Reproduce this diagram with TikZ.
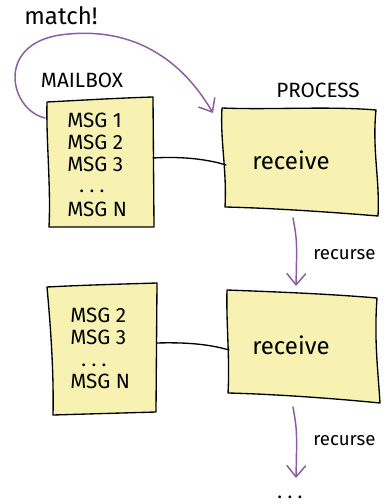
\documentclass[tikz,border=0pt]{standalone}
\usepackage{fontspec}
\setmainfont{Fira Sans}
\usepackage{tikz}
\usetikzlibrary{arrows.meta}
\usepackage{xcolor}
\definecolor{notefill}{RGB}{247,242,178}
\definecolor{sketchpurple}{RGB}{140,92,162}

\begin{document}
\begin{tikzpicture}[x=0.75pt,y=-0.75pt,>={Straight Barb[length=3mm,width=5mm]},line cap=round,line join=round,
  note/.style={draw=black,fill=notefill,line width=1pt},
  msg/.style={font=\fontsize{15.5}{17}\selectfont,inner sep=0pt,anchor=base west},
  dots/.style={font=\fontsize{15}{17}\selectfont,inner sep=0pt,anchor=base},
  title/.style={font=\fontsize{15.5}{17}\selectfont,inner sep=0pt},
  call/.style={font=\fontsize{18}{20}\selectfont,inner sep=0pt},
  side/.style={font=\fontsize{14}{16}\selectfont,inner sep=0pt,anchor=west},
  link/.style={line width=1pt},
  flow/.style={->,draw=sketchpurple,line width=1.1pt}]
\useasboundingbox (0,0) rectangle (385,504);
% mailboxes
\draw[note] (47,102) .. controls (85,100) and (120,98) .. (153,97) -- (154,227) -- (49,227) .. controls (51,185) and (46,140) .. cycle;
\draw[note] (47,287) .. controls (85,285) and (125,284) .. (157,283) -- (156,412) -- (53,415) .. controls (54,370) and (50,320) .. cycle;
% processes
\draw[note] (222,108) .. controls (270,110) and (330,106) .. (376,110) .. controls (372,150) and (380,180) .. (378,216) .. controls (330,212) and (270,208) .. (225,207) .. controls (227,170) and (220,140) .. cycle;
\draw[note] (227,290) .. controls (280,292) and (330,294) .. (377,298) .. controls (374,340) and (378,370) .. (380,403) .. controls (330,398) and (270,394) .. (228,393) .. controls (230,360) and (226,320) .. cycle;
% edge points
\coordinate (mbox1-w) at (45,118);
\coordinate (mbox1-e) at (153,158);
\coordinate (mbox2-e) at (157,343);
\coordinate (proc1-nw) at (213,113);
\coordinate (proc1-w) at (226,165);
\coordinate (proc1-s) at (293,218);
\coordinate (proc2-n) at (296,286);
\coordinate (proc2-w) at (229,350);
\coordinate (proc2-s) at (293,407);
\coordinate (next) at (296,478);
% labels
\node[title,font=\fontsize{18}{20}\selectfont] (match) at (61,16) {match!};
\node[title] (mailbox) at (82,80) {MAILBOX};
\node[title] (process) at (318,90) {PROCESS};
% first mailbox
\node[msg] (m1a) at (67,127) {MSG 1};
\node[msg] (m1b) at (67,149) {MSG 2};
\node[msg] (m1c) at (67,171) {MSG 3};
\node[dots] (m1d) at (92,192) {.\hspace{4pt}.\hspace{4pt}.};
\node[msg] (m1n) at (67,216) {MSG N};
% second mailbox
\node[msg] (m2b) at (70,322) {MSG 2};
\node[msg] (m2c) at (70,344) {MSG 3};
\node[dots] (m2d) at (94,366) {.\hspace{4pt}.\hspace{4pt}.};
\node[msg] (m2n) at (70,388) {MSG N};
% receive
\node[call] (recv1) at (291,160) {receive};
\node[call] (recv2) at (291,345) {receive};
% connectors
\draw[link] (mbox1-e) .. controls (185,156) and (210,160) .. (proc1-w);
\draw[link] (mbox2-e) .. controls (190,342) and (212,345) .. (proc2-w);
\draw[flow] (mbox1-w) .. controls (10,110) and (-5,45) .. (60,35) .. controls (110,28) and (170,40) .. (proc1-nw);
\draw[flow] (proc1-s) .. controls (297,240) .. (proc2-n);
\draw[flow] (proc2-s) .. controls (297,430) .. (next);
\node[side] (rec1) at (313,255) {recurse};
\node[side] (rec2) at (313,441) {recurse};
\node[dots] (more) at (290,498) {.\hspace{4pt}.\hspace{4pt}.};
\end{tikzpicture}
\end{document}
